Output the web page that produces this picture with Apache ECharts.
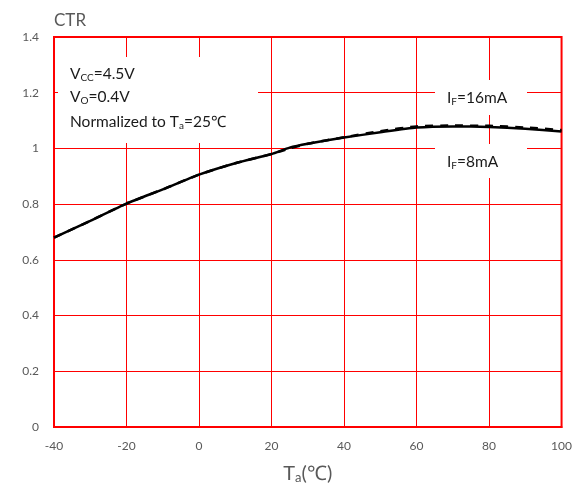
<!DOCTYPE html>
<html>
<head>
<meta charset="utf-8">
<script src="https://cdn.jsdelivr.net/npm/echarts@6/dist/echarts.min.js"></script>
<style>
html,body{margin:0;padding:0;background:#fff;}
#c{width:575px;height:489px;}
</style>
</head>
<body>
<div id="c"></div>
<script>
const temps = [-40, -30, -20, -10, 0, 10, 20, 25, 30, 40, 50, 60, 70, 80, 90, 100];
const ctr8mA = [0.680, 0.740, 0.802, 0.853, 0.906, 0.947, 0.980, 1.003, 1.017, 1.039, 1.058, 1.075, 1.079, 1.077, 1.071, 1.061];
const ctr16mA = [0.680, 0.740, 0.802, 0.853, 0.906, 0.947, 0.980, 1.000, 1.017, 1.040, 1.062, 1.079, 1.082, 1.081, 1.075, 1.066];
const xTicks = [-40, -20, 0, 20, 40, 60, 80, 100];
const yTicks = [0, 0.2, 0.4, 0.6, 0.8, 1, 1.2, 1.4];

const FONT = 'Lato';
const chart = echarts.init(document.getElementById('c'));
const pairs = arr => temps.map((t, i) => [t, arr[i]]);

const subStyle = { fontSize: 10, fontFamily: FONT, fill: '#1a1a1a', lineHeight: 10, verticalAlign: 'bottom' };
function note(x, y, text) {
  return {
    type: 'text', x: x, y: y, z: 20,
    style: {
      text: text, fontSize: 15.5, fontFamily: FONT, fill: '#1a1a1a', lineHeight: 18,
      rich: { s: subStyle }
    }
  };
}

chart.setOption({
  animation: false,
  grid: { left: 54, right: 12, top: 37, bottom: 61, show: true, borderColor: '#ff0000', borderWidth: 2, backgroundColor: 'transparent' },
  xAxis: {
    type: 'value', min: xTicks[0], max: xTicks[xTicks.length - 1], interval: 20,
    name: 'T{s|a}(℃)', nameLocation: 'middle', nameGap: 37,
    nameTextStyle: { fontSize: 20, fontFamily: FONT, color: '#595959', rich: { s: { fontSize: 13, fontFamily: FONT, color: '#595959', verticalAlign: 'bottom', lineHeight: 12 } } },
    axisLine: { show: true, onZero: false, lineStyle: { color: '#ff0000', width: 2 } },
    axisTick: { show: false },
    axisLabel: { fontSize: 12, fontFamily: FONT, color: '#595959', margin: 13 },
    splitLine: { show: true, lineStyle: { color: '#ff0000', width: 1 } }
  },
  yAxis: {
    type: 'value', min: yTicks[0], max: yTicks[yTicks.length - 1], interval: 0.2,
    name: 'CTR', nameLocation: 'end', nameGap: 8,
    nameTextStyle: { fontSize: 17, fontFamily: FONT, color: '#595959', align: 'left', padding: [0, 0, 0, 0] },
    axisLine: { show: true, onZero: false, lineStyle: { color: '#ff0000', width: 2 } },
    axisTick: { show: false },
    axisLabel: { fontSize: 12, fontFamily: FONT, color: '#595959', margin: 15 },
    splitLine: { show: true, lineStyle: { color: '#ff0000', width: 1 } }
  },
  series: [
    {
      name: 'IF=8mA', type: 'line', data: pairs(ctr8mA), smooth: 0.2, symbol: 'none', z: 3,
      lineStyle: { color: '#000', width: 2.5 }
    },
    {
      name: 'IF=16mA', type: 'line', data: pairs(ctr16mA), smooth: 0.2, symbol: 'none', z: 4,
      lineStyle: { color: '#000', width: 2.5, type: [8, 7] }
    }
  ],
  graphic: [
    { type: 'rect', z: 10, shape: { x: 58, y: 57, width: 200, height: 86 }, style: { fill: '#fff' } },
    { type: 'rect', z: 10, shape: { x: 435, y: 80, width: 92, height: 35 }, style: { fill: '#fff' } },
    { type: 'rect', z: 10, shape: { x: 435, y: 144, width: 92, height: 34 }, style: { fill: '#fff' } },
    note(70, 65, 'V{s|CC}=4.5V'),
    note(70, 88, 'V{s|O}=0.4V'),
    note(70, 113, 'Normalized to T{s|a}=25℃'),
    note(447, 89, 'I{s|F}=16mA'),
    note(447, 153, 'I{s|F}=8mA')
  ]
});
</script>
</body>
</html>
